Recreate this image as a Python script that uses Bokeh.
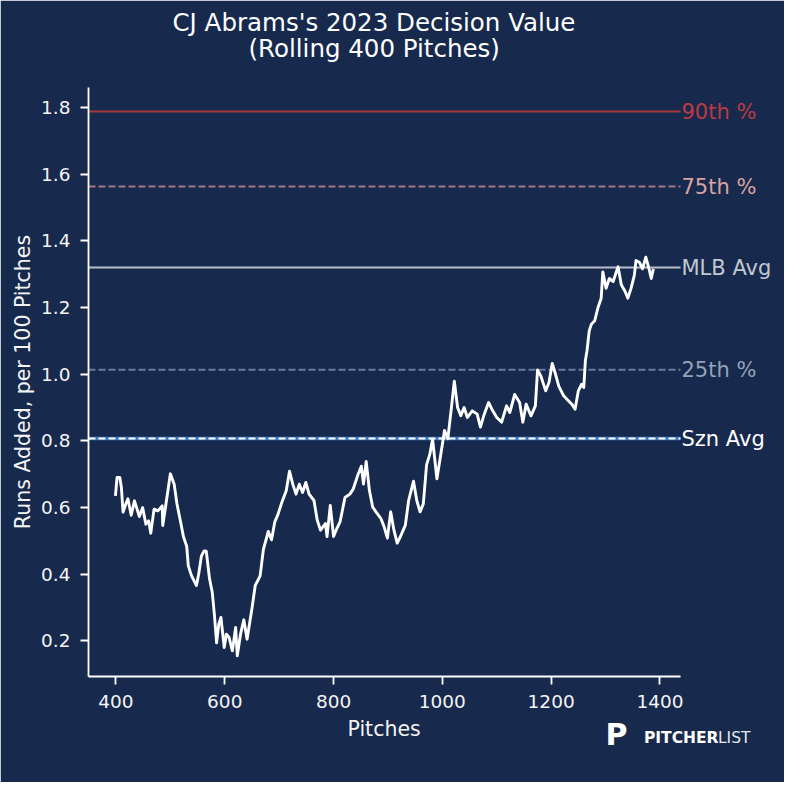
from bokeh.plotting import figure
from bokeh.models import FixedTicker, PrintfTickFormatter, Range1d, Title, LinearAxis
from bokeh.core.properties import value
from bokeh.embed import file_html
from bokeh.resources import INLINE

# ---------------- data ----------------
pitches = [399, 402, 407, 410, 413, 418, 422, 428, 434, 443, 449, 455, 460, 464, 470, 477, 485, 486,
           491, 500, 507, 512, 518, 524, 530, 533, 539, 548, 552, 557, 562, 566, 572, 577, 581, 585,
           589, 593, 599, 603, 608, 614, 620, 623, 629, 635, 641, 650, 656, 665, 671, 680, 686, 692,
           698, 704, 713, 719, 725, 731, 737, 743, 749, 755, 764, 770, 776, 785, 788, 794, 800, 806,
           812, 821, 830, 836, 845, 851, 855, 860, 866, 872, 878, 887, 893, 899, 905, 911, 917, 923,
           932, 938, 947, 953, 959, 965, 971, 977, 982, 990, 997, 1004, 1010, 1016, 1022, 1028, 1034,
           1040, 1046, 1055, 1064, 1070, 1076, 1085, 1091, 1100, 1109, 1118, 1124, 1133, 1142, 1148,
           1154, 1163, 1171, 1175, 1181, 1190, 1196, 1202, 1208, 1214, 1223, 1229, 1238, 1244, 1250,
           1256, 1260, 1263, 1266, 1270, 1274, 1280, 1286, 1292, 1295, 1301, 1307, 1314, 1323, 1329,
           1336, 1341, 1347, 1353, 1356, 1362, 1368, 1374, 1380, 1384, 1388]
values = [0.635, 0.690, 0.690, 0.660, 0.586, 0.610, 0.626, 0.577, 0.620, 0.573, 0.600, 0.550, 0.560,
          0.523, 0.595, 0.590, 0.605, 0.546, 0.600, 0.701, 0.670, 0.612, 0.563, 0.513, 0.484, 0.425,
          0.395, 0.366, 0.400, 0.454, 0.470, 0.469, 0.386, 0.346, 0.277, 0.194, 0.250, 0.270, 0.180,
          0.220, 0.210, 0.170, 0.240, 0.155, 0.220, 0.263, 0.205, 0.297, 0.366, 0.395, 0.474, 0.528,
          0.503, 0.557, 0.580, 0.611, 0.650, 0.709, 0.670, 0.640, 0.670, 0.645, 0.675, 0.640, 0.621,
          0.562, 0.532, 0.552, 0.513, 0.606, 0.513, 0.537, 0.557, 0.630, 0.640, 0.655, 0.699, 0.724,
          0.670, 0.738, 0.650, 0.601, 0.587, 0.567, 0.542, 0.508, 0.587, 0.532, 0.493, 0.513, 0.547,
          0.621, 0.679, 0.621, 0.587, 0.611, 0.728, 0.760, 0.805, 0.686, 0.758, 0.831, 0.806, 0.890,
          0.979, 0.900, 0.875, 0.900, 0.870, 0.890, 0.880, 0.841, 0.875, 0.915, 0.895, 0.870, 0.856,
          0.905, 0.885, 0.939, 0.915, 0.856, 0.910, 0.875, 0.905, 1.013, 0.995, 0.950, 0.975, 1.032,
          1.000, 0.964, 0.935, 0.925, 0.910, 0.895, 0.950, 0.970, 0.960, 1.042, 1.071, 1.130, 1.150,
          1.160, 1.199, 1.228, 1.307, 1.258, 1.287, 1.278, 1.322, 1.268, 1.248, 1.228, 1.258, 1.297,
          1.341, 1.336, 1.316, 1.351, 1.316, 1.287, 1.316]

ref_names = ["90th %", "75th %", "MLB Avg", "25th %", "Szn Avg"]
ref_values = [1.788, 1.563, 1.320, 1.013, 0.807]

x_ticks = [400, 600, 800, 1000, 1200, 1400]
y_ticks = [0.2, 0.4, 0.6, 0.8, 1.0, 1.2, 1.4, 1.6, 1.8]

title_line1 = "CJ Abrams's 2023 Decision Value"
title_line2 = "(Rolling 400 Pitches)"
x_label = "Pitches"
y_label = "Runs Added, per 100 Pitches"
logo_bold = "PITCHER"
logo_light = "LIST"
logo_icon = "P"

# ---------------- style ----------------
BG = "#172a4d"
FONT = "DejaVu Sans"
X0, X1 = 349.5, 1437.8          # axis limits (x)
Y0, Y1 = 0.093, 1.860           # axis limits (y)

W, H = 784, 782
BL, BR, BT, BB = 88, 4, 87, 106
FW = W - BL - BR
PX_PER_X = 592.0 / (X1 - X0)    # axis spans 592 px
XR = X0 + FW / PX_PER_X         # frame extends right to host the line labels

p = figure(width=W, height=H, output_backend="svg", toolbar_location=None,
           x_range=Range1d(X0, XR), y_range=Range1d(Y0, Y1),
           background_fill_color=BG, border_fill_color=BG,
           min_border_left=BL, min_border_right=BR, min_border_top=BT, min_border_bottom=BB)
p.outline_line_color = None
p.grid.visible = False

for ax in (p.xaxis[0], p.yaxis[0]):
    ax.axis_line_color = "white"
    ax.axis_line_width = 1.8
    ax.major_tick_line_color = "white"
    ax.major_tick_line_width = 1.8
    ax.major_tick_out = 8
    ax.major_tick_in = 0
    ax.minor_tick_out = 0
    ax.minor_tick_in = 0
    ax.major_label_text_color = "#f4f4f4"
    ax.major_label_text_font = FONT
    ax.major_label_text_font_size = "18.5px"
    ax.axis_label_text_color = "#f4f4f4"
    ax.axis_label_text_font = FONT
    ax.axis_label_text_font_size = "20.5px"
    ax.axis_label_text_font_style = "normal"

p.xaxis.bounds = (X0, X1)
p.xaxis.ticker = FixedTicker(ticks=x_ticks)
p.yaxis.ticker = FixedTicker(ticks=y_ticks)
p.xaxis.formatter = PrintfTickFormatter(format="%d")
p.yaxis.formatter = PrintfTickFormatter(format="%.1f")
p.yaxis.axis_label = y_label
p.xaxis.major_label_standoff = 10
p.yaxis.major_label_standoff = 10
p.yaxis.axis_label_standoff = 3


def edge_axis(bounds="auto"):
    # axis drawn in the background colour: hides the thin frame seams
    return LinearAxis(ticker=FixedTicker(ticks=[]), axis_line_color=BG, axis_line_width=4,
                      bounds=bounds, major_tick_out=0, major_tick_in=0, minor_tick_out=0,
                      minor_tick_in=0, major_label_standoff=0, major_label_text_font_size="0px")


p.add_layout(edge_axis(), "above")
p.add_layout(edge_axis(), "right")
p.below = [edge_axis((X1, XR))] + list(p.below)

line_colors = ["#a6363f", "#a37584", "#b8bdc9", "#667c9e", "#3a78c4"]
label_colors = ["#bb3a42", "#d9a2a2", "#c3c8d2", "#95a2b8", "#ffffff"]
dashes = ["solid", "7 3", "solid", "7 3", "solid"]

for name, val, lc, ds in zip(ref_names, ref_values, line_colors, dashes):
    lw = 3.5 if name == "Szn Avg" else 2
    p.segment(x0=[X0], y0=[val], x1=[X1], y1=[val], line_color=lc, line_width=lw, line_dash=ds)

# white dashed overlay on season average
p.segment(x0=[X0], y0=[ref_values[4]], x1=[X1], y1=[ref_values[4]], line_color="white",
          line_width=1.8, line_dash="7 3")

p.text(x=[X1] * len(ref_names), y=ref_values, text=ref_names, text_color=label_colors,
       x_offset=1, text_align="left", text_baseline="middle",
       text_font=value(FONT), text_font_size="21px")

p.line(pitches, values, line_color="white", line_width=2.9, line_join="round")

# title (two lines)
p.add_layout(Title(text=title_line2, align="left", offset=160, standoff=49,
                   text_font=FONT, text_font_size="24.5px", text_font_style="normal",
                   text_color="white"), "above")
p.add_layout(Title(text=title_line1, align="left", offset=84, standoff=-58,
                   text_font=FONT, text_font_size="24.5px", text_font_style="normal",
                   text_color="white"), "above")

# logo (zero-height rows placed right under the tick labels)
p.add_layout(Title(text=logo_bold, align="right", offset=62, standoff=-72,
                   text_font=FONT, text_font_size="15.5px", text_font_style="bold",
                   text_color="white"), "below")
p.add_layout(Title(text=logo_light, align="right", offset=30, standoff=-72,
                   text_font=FONT, text_font_size="15.5px", text_font_style="normal",
                   text_color="#e6e9ef"), "below")
p.add_layout(Title(text=logo_icon, align="right", offset=153, standoff=-82,
                   text_font=FONT, text_font_size="30px", text_font_style="bold",
                   text_color="white"), "below")

# x label, centred under the axis (not under the extended frame)
p.add_layout(Title(text=x_label, align="left", offset=259, standoff=8,
                   text_font=FONT, text_font_size="20.5px", text_font_style="normal",
                   text_color="#f4f4f4"), "below")

open("out.html", "w").write(file_html(p, INLINE))
